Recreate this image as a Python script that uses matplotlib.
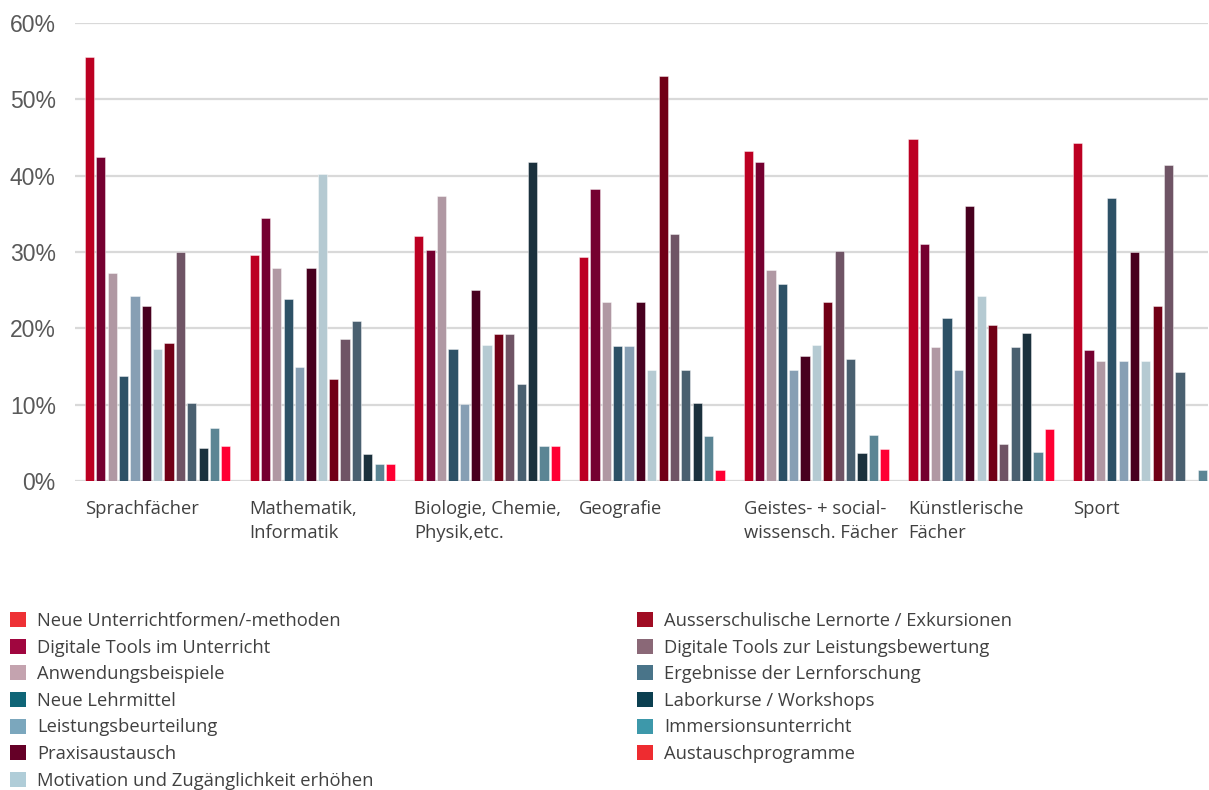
import matplotlib
matplotlib.use("Agg")
import matplotlib.pyplot as plt
from matplotlib.patches import Patch
import numpy as np

categories = ["Sprachfächer", "Mathematik,\nInformatik", "Biologie, Chemie,\nPhysik,etc.",
              "Geografie", "Geistes- + social-\nwissensch. Fächer", "Künstlerische\nFächer", "Sport"]

series_names = [
    "Neue Unterrichtformen/-methoden",
    "Digitale Tools im Unterricht",
    "Anwendungsbeispiele",
    "Neue Lehrmittel",
    "Leistungsbeurteilung",
    "Praxisaustausch",
    "Motivation und Zugänglichkeit erhöhen",
    "Ausserschulische Lernorte / Exkursionen",
    "Digitale Tools zur Leistungsbewertung",
    "Ergebnisse der Lernforschung",
    "Laborkurse / Workshops",
    "Immersionsunterricht",
    "Austauschprogramme",
]

# values in percent, one list per series (order of categories above)
neue_unterrichtformen = [55.5, 29.6, 32.1, 29.4, 43.2, 44.8, 44.3]
digitale_tools_unterricht = [42.5, 34.4, 30.2, 38.3, 41.8, 31.1, 17.1]
anwendungsbeispiele = [27.3, 27.9, 37.3, 23.5, 27.7, 17.5, 15.7]
neue_lehrmittel = [13.7, 23.9, 17.3, 17.7, 25.8, 21.4, 37.1]
leistungsbeurteilung = [24.3, 15.0, 10.1, 17.7, 14.5, 14.6, 15.7]
praxisaustausch = [22.9, 27.9, 25.0, 23.5, 16.4, 36.0, 30.0]
motivation = [17.3, 40.2, 17.8, 14.6, 17.8, 24.3, 15.7]
ausserschulische = [18.1, 13.4, 19.3, 53.0, 23.4, 20.4, 22.9]
digitale_tools_bewertung = [30.0, 18.6, 19.3, 32.4, 30.1, 4.8, 41.4]
ergebnisse_lernforschung = [10.2, 21.0, 12.7, 14.6, 16.0, 17.5, 14.3]
laborkurse = [4.3, 3.5, 41.8, 10.2, 3.7, 19.4, 0.0]
immersionsunterricht = [7.0, 2.2, 4.6, 5.9, 6.0, 3.8, 1.4]
austauschprogramme = [4.6, 2.2, 4.6, 1.4, 4.2, 6.75, 0.0]

values = [neue_unterrichtformen, digitale_tools_unterricht, anwendungsbeispiele, neue_lehrmittel,
          leistungsbeurteilung, praxisaustausch, motivation, ausserschulische,
          digitale_tools_bewertung, ergebnisse_lernforschung, laborkurse,
          immersionsunterricht, austauschprogramme]

bar_colors = ["#BC0022", "#750030", "#B098A3", "#2D5166", "#879FB4", "#48001F", "#B5CAD2",
              "#710016", "#6F5465", "#4A6070", "#1B313D", "#5B8594", "#FF0033"]
legend_colors = ["#EE3135", "#A0063F", "#C4A3AF", "#0F6577", "#7BA7BD", "#650027", "#B0CDD8",
                 "#A00C23", "#8A6877", "#497489", "#0B3F50", "#3D98AA", "#EE2C30"]

yticks = [0, 10, 20, 30, 40, 50, 60]

W, H = 1209, 790
fig = plt.figure(figsize=(W / 100, H / 100), dpi=100)

group_px = 164.7
ax_left = 75.3
ax_bottom = H - 481
ax_top = H - 23
xmin, xmax = -0.5, 6.38
ax = fig.add_axes([ax_left / W, ax_bottom / H, (xmax - xmin) * group_px / W, (ax_top - ax_bottom) / H])

n = len(values)
step = 11.37 / group_px
bw = 9.2 / group_px
x = np.arange(len(categories))
offsets = (np.arange(n) - (n - 1) / 2) * step
for j in range(n):
    ax.bar(x + offsets[j], values[j], width=bw, color=bar_colors[j],
           edgecolor=(1, 1, 1, 0.5), linewidth=0.6, zorder=3)

ax.set_xlim(xmin, xmax)
ax.set_ylim(0, 60)
ax.set_yticks(yticks)
ax.set_yticklabels([f"{v}%" for v in yticks], fontsize=16.5, color="#595959",
                   fontfamily="Liberation Sans")
ax.tick_params(axis="y", length=0, pad=14)
ax.set_xticks([])
ax.grid(axis="y", color="#D9D9D9", linewidth=1.6, zorder=0)
for s in ax.spines.values():
    s.set_visible(False)
ax.set_axisbelow(True)

label_font = "Open Sans"
fs = 13.2
first_bar_left = offsets[0] - bw / 2
for i, cat in enumerate(categories):
    ax.text(i + first_bar_left, -2.55, cat, ha="left", va="top",
            fontsize=fs, color="#404040", fontfamily=label_font, linespacing=1.41,
            clip_on=False)

handles = [Patch(facecolor=c, edgecolor="none") for c in legend_colors]
fs_px = fs * 100 / 72
leg_kw = dict(frameon=False, loc="upper left", borderpad=0, borderaxespad=0,
              handlelength=16 / fs_px, handleheight=16 / fs_px, handletextpad=11 / fs_px,
              labelspacing=0.47, labelcolor="#404040", prop={"family": label_font, "size": fs})
leg1 = fig.legend(handles[:7], series_names[:7], bbox_to_anchor=(10 / W, 1 - 612 / H), **leg_kw)
leg2 = fig.legend(handles[7:], series_names[7:], bbox_to_anchor=(637 / W, 1 - 612 / H), **leg_kw)

fig.savefig("out.png", dpi=100)
